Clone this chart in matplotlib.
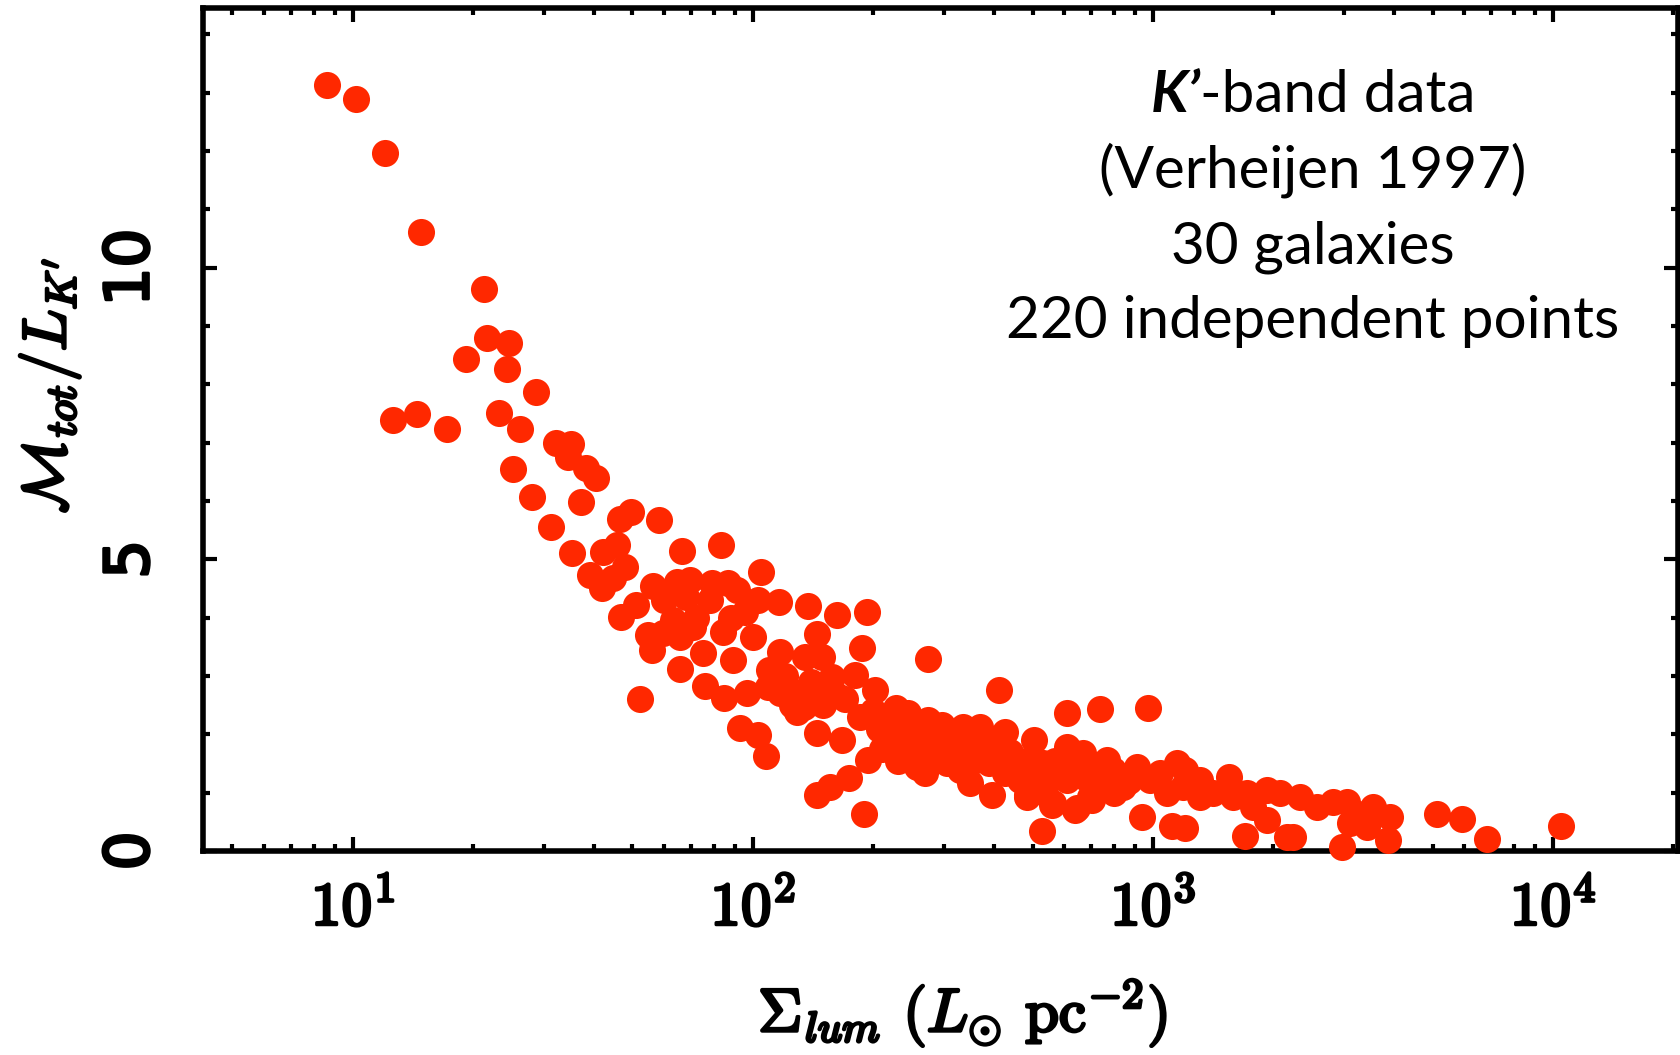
import matplotlib
matplotlib.use("Agg")
import matplotlib.pyplot as plt
import matplotlib.patheffects as pe
from matplotlib.ticker import FixedLocator, LogLocator, NullFormatter, MultipleLocator
from matplotlib.transforms import IdentityTransform

plt.rcParams['mathtext.fontset'] = 'cm'

# luminous surface density (L_sun pc^-2) and dynamical M/L
sigma_lum = [
    8.6, 10.2, 12.0, 14.8, 21.3, 21.6, 24.6, 24.3, 19.2, 28.7, 12.6, 14.5, 17.2,
    23.2, 26.2, 32.2, 35.0, 34.5, 38.2, 40.5, 25.1, 28.0, 31.3, 37.2, 35.3,
    46.5, 49.5, 58.2, 42.2, 45.7, 66.5, 83.2, 39.1, 41.9, 44.7, 47.9, 46.8, 51.0,
    56.2, 64.6, 69.6, 79.0, 86.6, 91.2, 104.7, 103, 116, 137, 162, 193, 145, 187,
    149, 135, 117, 95.5, 100, 84, 75, 70.8, 63, 59.6, 54.6, 55.9, 65.7, 65.7,
    52.2, 75.9, 84.6, 89, 96.6, 109, 117, 129, 145, 158, 180, 202, 167, 194,
    92.8, 103, 108, 145, 156, 174, 190, 228, 244, 274, 297, 335, 369, 427, 504,
    610, 412, 274, 224, 237, 257, 269, 305, 349, 396, 427, 484, 559, 610, 638,
    528, 243, 272, 316, 363, 398, 457, 531, 585, 631, 610, 522, 465, 329, 288,
    247, 288, 329, 385, 161, 134, 207, 227, 249, 143, 537, 800,
    737, 971, 610, 668, 767, 912, 1041, 1148, 1202, 452, 484, 562, 646, 704,
    939, 1115, 1202, 1311, 1413, 1549, 1718, 1928, 2078, 2331, 2570, 2818, 3055,
    3428, 3912, 5129, 5923, 6839, 1698, 1928, 2163, 2239, 2969, 3108, 3428, 3868,
    3548, 1778, 1585, 1189, 1311, 1084, 983, 841, 794, 696, 553, 501, 10500,
    215, 235, 255, 265, 280, 300, 310, 320, 340, 355, 375, 390, 410, 440, 470,
    500, 545, 570, 600, 650, 680, 720, 760, 820, 870, 250, 230, 210,
    120, 130, 110, 140, 125, 78, 72, 88, 60, 68, 150, 170, 185, 200,
]
ml_ratio = [
    13.13, 12.89, 11.97, 10.61, 9.64, 8.79, 8.70, 8.26, 8.43, 7.86, 7.38, 7.49, 7.23,
    7.51, 7.23, 7.00, 6.98, 6.75, 6.56, 6.39, 6.55, 6.07, 5.55, 5.98, 5.11,
    5.69, 5.81, 5.67, 5.12, 5.24, 5.14, 5.24, 4.73, 4.51, 4.68, 4.87, 4.01, 4.22,
    4.54, 4.61, 4.64, 4.59, 4.59, 4.47, 4.78, 4.30, 4.27, 4.20, 4.04, 4.10, 3.72, 3.48,
    3.32, 3.32, 3.41, 4.10, 3.67, 3.75, 3.39, 3.84, 3.96, 3.74, 3.70, 3.44, 3.67, 3.12,
    2.60, 2.83, 2.62, 3.27, 2.71, 2.81, 2.71, 2.38, 2.02, 2.98, 3.02, 2.76, 1.90, 1.56,
    2.11, 1.99, 1.63, 0.96, 1.10, 1.25, 0.63, 2.45, 2.37, 2.25, 2.16, 2.13, 2.13, 2.04, 1.90,
    2.37, 2.76, 3.29, 1.90, 1.68, 1.44, 1.34, 1.51, 1.17, 0.96, 1.34, 0.96, 0.79, 1.79, 0.70,
    0.34, 1.85, 1.90, 1.79, 1.68, 1.79, 1.56, 1.51, 1.44, 1.68, 1.22, 1.22, 1.22, 1.39, 1.68,
    2.02, 2.02, 1.90, 1.90, 2.68, 2.46, 2.09, 1.91, 1.72, 2.83, 0.99, 0.99,
    2.43, 2.45, 1.70, 1.68, 1.56, 1.44, 1.34, 1.51, 1.39, 1.39, 0.93, 0.82, 0.74, 0.87,
    0.58, 0.43, 0.39, 0.93, 0.99, 1.27, 0.99, 1.05, 0.99, 0.93, 0.75, 0.84, 0.84,
    0.65, 0.58, 0.63, 0.55, 0.21, 0.26, 0.53, 0.24, 0.24, 0.07, 0.48, 0.41, 0.19,
    0.75, 0.75, 0.93, 1.10, 1.22, 0.99, 1.22, 1.10, 1.39, 0.93, 1.27, 1.27, 0.42,
    2.20, 2.10, 2.00, 1.80, 1.75, 1.90, 1.65, 2.00, 1.80, 1.55, 1.70, 1.50, 1.60, 1.70, 1.45,
    1.60, 1.35, 1.55, 1.30, 1.45, 1.25, 1.35, 1.20, 1.30, 1.20, 1.60, 1.55, 1.75,
    3.00, 2.70, 3.10, 2.90, 2.50, 4.30, 4.00, 4.00, 4.30, 4.35, 2.50, 2.60, 2.30, 2.40,
]

xticks = [1e1, 1e2, 1e3, 1e4]
xticklabels = [r'$10^{1}$', r'$10^{2}$', r'$10^{3}$', r'$10^{4}$']
yticks = [0, 5, 10]
yticklabels = ['0', '5', '10']
note_band = ['K\u2019', '-band data']
note_lines = ['(Verheijen 1997)', '30 galaxies', '220 independent points']

bold = [pe.withStroke(linewidth=2.2, foreground='black')]
red = '#ff2800'

fig = plt.figure(figsize=(16.81, 10.55), dpi=100)
ax = fig.add_axes([203 / 1681, 1 - 851 / 1055, 1475 / 1681, 843 / 1055])

ax.scatter(sigma_lum, ml_ratio, s=380, c=red, linewidths=0, zorder=3, clip_on=False)

ax.set_xscale('log')
ax.set_xlim(4.22, 20540)
ax.set_ylim(0, 14.45)

ax.xaxis.set_major_locator(FixedLocator(xticks))
ax.xaxis.set_minor_locator(LogLocator(base=10, subs=range(2, 10)))
ax.xaxis.set_minor_formatter(NullFormatter())
ax.set_xticklabels(xticklabels, fontsize=44)
ax.yaxis.set_major_locator(FixedLocator(yticks))
ax.yaxis.set_minor_locator(MultipleLocator(1))
ax.set_yticklabels(yticklabels, fontsize=44, rotation=90, va='center')

for lab in ax.get_xticklabels() + ax.get_yticklabels():
    lab.set_path_effects(bold)

ax.tick_params(which='both', direction='in', top=True, right=True, width=3)
ax.tick_params(which='major', length=10)
ax.tick_params(which='minor', length=5)
ax.tick_params(axis='x', pad=20)
ax.tick_params(axis='y', pad=30)
for s in ax.spines.values():
    s.set_linewidth(4)

ax.text(0.515, -0.192, r'$\Sigma_{\mathit{lum}}$ $(L_{\odot}$ $\mathrm{pc}^{-2})$',
        transform=ax.transAxes, ha='center', va='center', fontsize=44, path_effects=bold)
ax.text(-0.104, 0.552, r"$\mathcal{M}_{\mathit{tot}}/L_{K'}$", transform=ax.transAxes,
        ha='center', va='center', rotation=90, fontsize=44, path_effects=bold)

# note block, centred in the upper right
cx = 1313
fs = 42
renderer = fig.canvas.get_renderer()
t1 = fig.text(0, 0, note_band[0], fontsize=fs, family='Lato', weight='bold', style='italic',
              transform=IdentityTransform(), va='baseline')
t2 = fig.text(0, 0, note_band[1], fontsize=fs, family='Lato',
              transform=IdentityTransform(), va='baseline')
w1 = t1.get_window_extent(renderer).width
w2 = t2.get_window_extent(renderer).width
x0 = cx - (w1 + w2) / 2
t1.set_position((x0, 1055 - 112))
t2.set_position((x0 + w1, 1055 - 112))
for line, yb in zip(note_lines, [188, 263, 338]):
    fig.text(cx, 1055 - yb, line, fontsize=fs, family='Lato', ha='center', va='baseline',
             transform=IdentityTransform())

fig.savefig('out.png', dpi=100)
